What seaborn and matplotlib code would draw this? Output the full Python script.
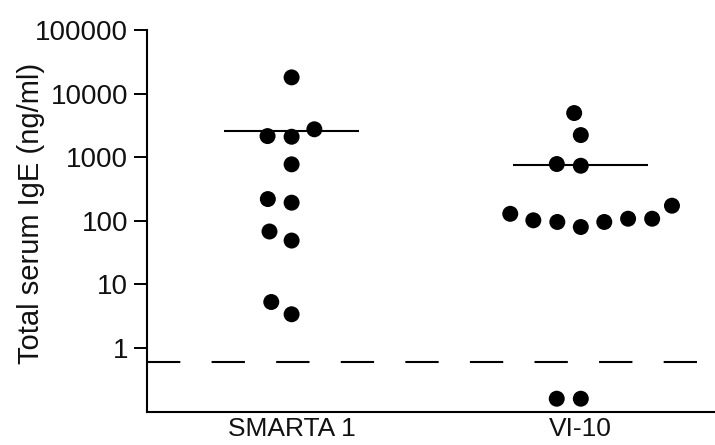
import numpy as np
import pandas as pd
import matplotlib
matplotlib.use("Agg")
import matplotlib.pyplot as plt
from matplotlib.ticker import NullLocator
import seaborn as sns

categories = ["SMARTA 1", "VI-10"]
smarta_values = [18000, 2750, 2100, 2150, 773, 193, 220, 68, 49, 5.3, 3.4]
vi10_values = [4950, 2230, 735, 782, 173, 108, 102, 96, 80, 96, 108, 129, 0.16, 0.16]
mean_values = [2600, 745]
detection_limit = 0.6
ytick_values = [1, 10, 100, 1000, 10000, 100000]
ytick_labels = ["1", "10", "100", "1000", "10000", "100000"]
ylabel_text = "Total serum IgE (ng/ml)"

df = pd.DataFrame({
    "group": [categories[0]] * len(smarta_values) + [categories[1]] * len(vi10_values),
    "IgE": smarta_values + vi10_values,
})

sns.set_theme(style="ticks")
plt.rcParams["font.family"] = ["Liberation Sans", "DejaVu Sans"]
TXT = "#111111"

fig = plt.figure(figsize=(7.15, 4.45), dpi=100)
ax = fig.add_axes([147 / 715, 1 - 411.7 / 445, (715 - 147) / 715, (411.7 - 30) / 445])

sns.swarmplot(data=df, x="group", y="IgE", order=categories, color="black",
              size=11.5, linewidth=5, edgecolor="none", log_scale=True,
              ax=ax, zorder=3)

xs = np.arange(len(categories))
ax.hlines(mean_values, xs - 0.234, xs + 0.234, color="black", lw=1.5, zorder=2)
ax.axhline(detection_limit, color="black", lw=1.5, dashes=(16, 15), zorder=1)

ax.set_ylim(0.1, 1e5)
ax.set_xlim(-0.5, 1.464)
for s in ["top", "right"]:
    ax.spines[s].set_visible(False)
for s in ["left", "bottom"]:
    ax.spines[s].set_linewidth(1.5)
    ax.spines[s].set_color("black")

ax.set_yticks(ytick_values, ytick_labels)
ax.yaxis.set_minor_locator(NullLocator())
ax.tick_params(axis="y", length=9.4, width=1.4, labelsize=20, pad=4.3,
               colors="black", labelcolor=TXT)
ax.tick_params(axis="x", length=0, labelsize=19, pad=4, labelcolor=TXT)
ax.set_xlabel("")
ax.set_ylabel(ylabel_text, fontsize=21, color=TXT)
ax.yaxis.set_label_coords(-0.18, 0.52)

fig.savefig("out.png", dpi=100)
